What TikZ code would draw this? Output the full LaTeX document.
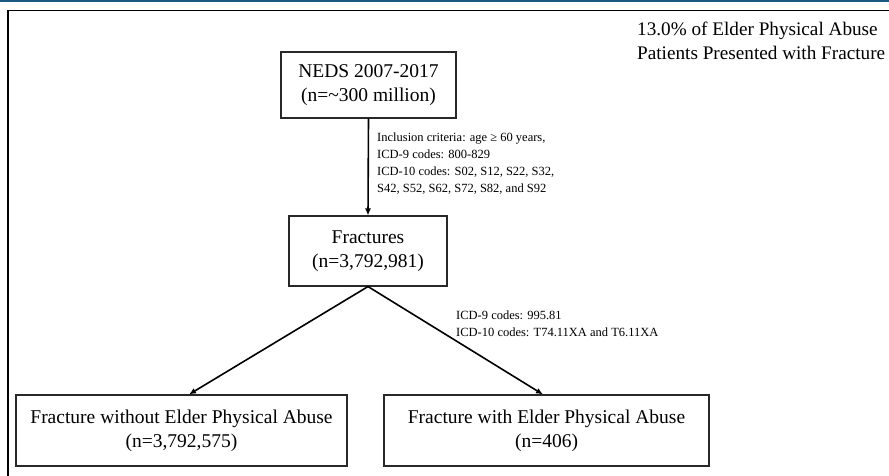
\documentclass[tikz,border=0pt]{standalone}
\usepackage{fontspec}
\setmainfont{Liberation Serif}
\usepackage{tikz}
\usetikzlibrary{calc,positioning,arrows.meta}
\usepackage{xcolor}
\definecolor{bandblue}{RGB}{22,88,128}
\definecolor{boxline}{RGB}{40,40,40}

\begin{document}
\begin{tikzpicture}[x=1pt,y=-1pt,>={Latex[length=7pt,width=6pt]}]
  \tikzset{
    box/.style={draw=boxline,line width=1.1pt,inner sep=0pt,align=center,
                font=\fontsize{19.5}{24}\selectfont},
    note/.style={anchor=north west,align=left,inner sep=0pt,
                 font=\fontsize{12.5}{16.8}\selectfont},
    flow/.style={->,draw=black,line width=1.6pt},
  }
  \useasboundingbox (0,0) rectangle (889,476);
  \fill[bandblue] (0,0) rectangle (889,2.5);
  \draw[line width=1.4pt] (889,10.5) -- (8,10.5) -- (8,476);

  \coordinate (c0) at (368.5,85);
  \coordinate (c1) at (368,251);
  \coordinate (c2) at (181.5,430.5);
  \coordinate (c3) at (546.5,430.5);

  \node[box,minimum width=175pt,minimum height=66pt] (neds) at (c0)
    {NEDS 2007-2017\\(n=\textasciitilde300 million)};
  \node[box,minimum width=158pt,minimum height=70pt] (frac) at (c1)
    {Fractures\\(n=3,792,981)};
  \node[box,minimum width=331pt,minimum height=71pt] (noabuse) at (c2)
    {Fracture without Elder Physical Abuse\\(n=3,792,575)};
  \node[box,minimum width=325pt,minimum height=71pt] (abuse) at (c3)
    {Fracture with Elder Physical Abuse\\(n=406)};

  \draw[flow] (neds.south) -- (frac.north);
  \draw[flow] (frac.south) -- ([xshift=7.5pt]noabuse.north);
  \draw[flow] (frac.south) -- ([xshift=-3.5pt]abuse.north);

  \node[note] (incl) at (377,133)
    {Inclusion criteria: age ≥ 60 years,\\ICD-9 codes: 800-829\\
     ICD-10 codes: S02, S12, S22, S32,\\S42, S52, S62, S72, S82, and S92};
  \node[note] (icd) at (456,311)
    {ICD-9 codes: 995.81\\ICD-10 codes: T74.11XA and T6.11XA};

  \node[note,font=\fontsize{19.2}{23.5}\selectfont] (share) at (637,22)
    {13.0\% of Elder Physical Abuse\\Patients Presented with Fracture};
\end{tikzpicture}
\end{document}
